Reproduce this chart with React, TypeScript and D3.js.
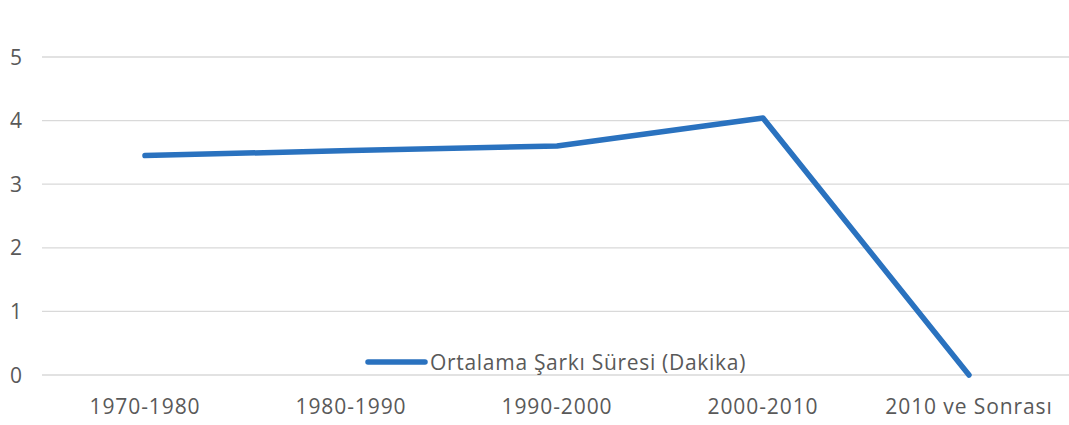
import React from "react";
import * as d3 from "d3";

const categories = ["1970-1980", "1980-1990", "1990-2000", "2000-2010", "2010 ve Sonrası"];
const values = [3.45, 3.53, 3.6, 4.04, 0];
const yTicks = [0, 1, 2, 3, 4, 5];
const seriesName = "Ortalama Şarkı Süresi (Dakika)";

const W = 1069;
const H = 425;

export default function App() {
  const x = d3.scaleBand<string>().domain(categories).range([42, 1072]);
  const y = d3.scaleLinear().domain([0, 5]).range([375, 57]);
  const line = d3
    .line<number>()
    .x((_, i) => (x(categories[i]) as number) + x.bandwidth() / 2)
    .y((d) => y(d));
  const font = "'Open Sans', sans-serif";
  const textColor = "#595959";
  const lineColor = "#2a72bf";
  return (
    <svg width={W} height={H} style={{ position: "absolute", left: 0, top: 0, background: "#fff" }}>
      {yTicks.map((t) => (
        <g key={t}>
          <line x1={42} x2={W} y1={y(t)} y2={y(t)} stroke="#d9d9d9" strokeWidth={1.3} />
          <text x={16} y={y(t)} dy="0.36em" textAnchor="middle" fontFamily={font} fontSize={21} fill={textColor}>
            {t}
          </text>
        </g>
      ))}
      {categories.map((c) => (
        <text
          key={c}
          x={(x(c) as number) + x.bandwidth() / 2}
          y={407}
          dy="0.35em"
          textAnchor="middle"
          fontFamily={font}
          fontSize={21}
          letterSpacing={0.9}
          fill={textColor}
        >
          {c}
        </text>
      ))}
      <path
        d={line(values) || ""}
        fill="none"
        stroke={lineColor}
        strokeWidth={5.5}
        strokeLinejoin="round"
        strokeLinecap="round"
      />
      <line x1={368} x2={425} y1={362} y2={362} stroke={lineColor} strokeWidth={5.5} strokeLinecap="round" />
      <text x={430} y={362} dy="0.36em" fontFamily={font} fontSize={21} letterSpacing={0.7} fill={textColor}>
        {seriesName}
      </text>
    </svg>
  );
}
